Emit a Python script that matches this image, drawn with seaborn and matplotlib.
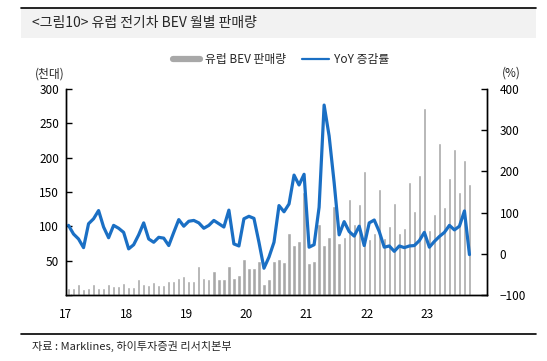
import matplotlib
matplotlib.use("Agg")
import matplotlib.pyplot as plt
import seaborn as sns
import pandas as pd
from matplotlib.lines import Line2D
from matplotlib.patches import Rectangle

# ---- data ----
months = pd.date_range("2017-01-01", "2023-09-01", freq="MS").strftime("%Y-%m").tolist()
sales = [10.7, 9.7, 16.5, 8.7, 10.7, 15.5, 9.7, 10.7, 16.5, 13, 13, 17,
         11.6, 12, 24, 15.5, 14, 19.4, 14, 14.6, 20.4, 20.4, 25, 28,
         21, 21, 42, 25, 24, 35, 24, 24, 42, 25, 29, 52,
         40, 40, 50, 16, 24, 50, 52, 48, 90, 73, 79, 150,
         47, 50, 104, 73, 85, 129, 76, 85, 140, 104, 132, 181,
         81, 90, 155, 83, 101, 134, 90, 97, 165, 123, 175, 273,
         94, 118, 221, 128, 170, 212, 150, 196, 162]
yoy = [69, 48, 36, 15, 73, 85, 105, 65, 39, 69, 62, 52,
       12, 22, 46, 75, 36, 28, 40, 38, 20, 52, 83, 67,
       79, 81, 75, 62, 69, 81, 73, 65, 106, 24, 19, 85,
       91, 86, 28, -35, -8, 28, 117, 102, 121, 191, 167, 193,
       16, 22, 113, 361, 286, 173, 46, 78, 54, 43, 67, 20,
       75, 82, 54, 16, 19, 6, 19, 15, 19, 20, 32, 52,
       16, 30, 42, 52, 69, 58, 67, 104, -2]
year_labels = ["17", "18", "19", "20", "21", "22", "23"]
left_ticks = [0, 50, 100, 150, 200, 250, 300]
right_ticks = [-100, 0, 100, 200, 300, 400]

df = pd.DataFrame({"month": months, "sales": sales, "yoy": yoy})
df["pos"] = range(len(df))

sns.set_theme(style="white")
plt.rcParams["font.family"] = ["Noto Sans CJK KR", "DejaVu Sans"]

W, H = 547, 361
fig = plt.figure(figsize=(W / 100, H / 100), dpi=100)
ax = fig.add_axes([66 / W, 1 - 295 / H, (487 - 66) / W, (295 - 89) / H])

bar_color = "#a8a8a8"
line_color = "#1a6fc4"

sns.barplot(data=df, x="month", y="sales", color=bar_color, width=0.66,
            saturation=1, ax=ax, zorder=1)
ax.set_xlim(-0.5, 83.5)
ax.set_ylim(0, 300)
ax.set_yticks(left_ticks)
ax.set_yticklabels([""] + [str(t) for t in left_ticks[1:]])
ax.set_xticks([-0.5 + 12 * i for i in range(7)])
ax.set_xticklabels(year_labels)
ax.set_xlabel("")
ax.set_ylabel("")

ax2 = ax.twinx()
sns.lineplot(data=df, x="pos", y="yoy", color=line_color, linewidth=2.3, ax=ax2)
ax2.set_ylim(-100, 400)
ax2.set_yticks(right_ticks)
ax2.set_xlim(-0.5, 83.5)
ax2.set_xlabel("")
ax2.set_ylabel("")

for a in (ax, ax2):
    a.spines["top"].set_visible(False)
    for s in ("left", "right", "bottom"):
        a.spines[s].set_color("black")
        a.spines[s].set_linewidth(1.0)
    a.tick_params(direction="in", length=4, width=1, colors="black",
                  labelsize=8.5, pad=4)
ax.tick_params(axis="x", pad=9)
ax.tick_params(axis="y", left=True, pad=5)
ax2.tick_params(axis="y", right=True, pad=9)

# axis unit labels
fig.text(50 / W, 1 - 74 / H, "(천대)", ha="center", va="center", fontsize=8.5)
fig.text(511 / W, 1 - 73 / H, "(%)", ha="center", va="center", fontsize=8.5)

# legend
handles = [Line2D([0], [0], color=bar_color, lw=4.5),
           Line2D([0], [0], color=line_color, lw=1.6)]
fig.legend(handles, ["유럽 BEV 판매량", "YoY 증감률"], loc="center",
           bbox_to_anchor=(281 / W, 1 - 60 / H), ncol=2, frameon=False,
           fontsize=8.5, handlelength=2.3, columnspacing=1.4, handletextpad=0.4)

# title banner
fig.patches.append(Rectangle((21 / W, 1 - 38 / H), (536 - 21) / W, 30 / H,
                             transform=fig.transFigure, facecolor="#f2f2f2",
                             edgecolor="none", zorder=0))
fig.lines.append(Line2D([21 / W, 536 / W], [1 - 8 / H, 1 - 8 / H],
                        transform=fig.transFigure, color="black", lw=1.2))
fig.text(32 / W, 1 - 23 / H, "<그림10> 유럽 전기차 BEV 월별 판매량",
         ha="left", va="center", fontsize=10)

# footer
fig.lines.append(Line2D([21 / W, 536 / W], [1 - 334 / H, 1 - 334 / H],
                        transform=fig.transFigure, color="black", lw=1.2))
fig.text(32 / W, 1 - 346 / H, "자료 : Marklines, 하이투자증권 리서치본부",
         ha="left", va="center", fontsize=8)

fig.savefig("out.png", dpi=100)
